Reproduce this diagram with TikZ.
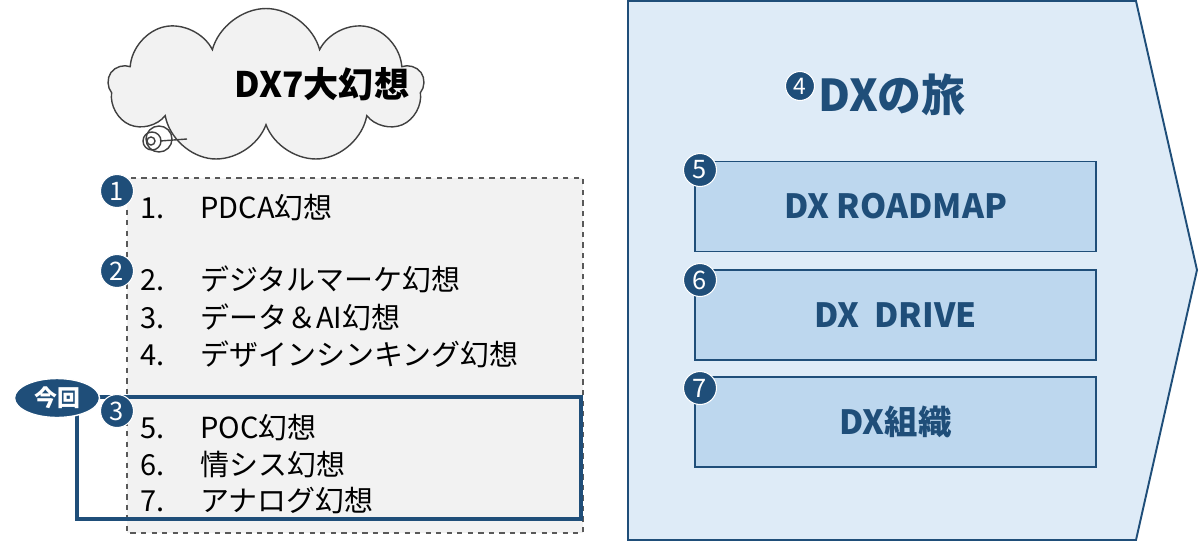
\documentclass[tikz,border=0pt]{standalone}
\usepackage{fontspec}
\newfontfamily\jp{Noto Sans CJK JP}
\usetikzlibrary{shapes.geometric, shapes.symbols}
\definecolor{navy}{HTML}{1F4E79}
\definecolor{paleblue}{HTML}{DEEBF7}
\definecolor{boxblue}{HTML}{BDD7EE}
\definecolor{panelgray}{HTML}{F2F2F2}
\tikzstyle{badge} = [
    circle,
    fill=navy,
    draw=white,
    line width=0.6pt,
    text=white,
    minimum size=0.66cm,
    inner sep=0pt,
    font=\jp\fontsize{14.5}{14.5}\selectfont
]
\tikzstyle{item} = [
    anchor=west,
    inner sep=0pt,
    font=\jp\fontsize{16.5}{16.5}\selectfont
]
\tikzstyle{stagebox} = [
    rectangle,
    minimum width=8.02cm,
    minimum height=1.8cm,
    draw=navy,
    line width=1.1pt,
    fill=boxblue,
    text=navy,
    font=\jp\bfseries\fontsize{19}{19}\selectfont
]

\begin{document}
\begin{tikzpicture}[x=0.02cm, y=-0.02cm]
\useasboundingbox (0,0) rectangle (1200,542);

% journey arrow
\draw [fill=paleblue, draw=navy, line width=1.1pt]
    (628,1) -- (1136,1) -- (1197,270) -- (1136,540) -- (628,540) -- cycle;

% thought cloud
\node (cloud) [cloud, cloud puffs=9, aspect=2.4, draw=black!75, fill=panelgray,
    line width=0.8pt, minimum width=6.3cm, minimum height=3.1cm] at (266,86) {};
\node (cloudtitle) [font=\jp\bfseries\fontsize{20}{20}\selectfont] at (322,84) {DX7大幻想};
\draw [black!75, line width=0.8pt] (159,139) circle (13);
\draw [black!75, line width=0.8pt] (152,141) circle (9);
\draw [black!75, line width=0.8pt] (151,141) circle (4);
\draw [black!75, line width=0.8pt] (160,141) -- (187,139);

% myth list
\draw [dashed, draw=black!65, fill=panelgray, line width=0.7pt] (127,178) rectangle (583,533);
\draw [draw=navy, line width=1.8pt] (77,397) rectangle (581,519);

\node (item1) [item] at (140,208) {\makebox[1.2cm][l]{1.}PDCA幻想};
\node (item2) [item] at (140,279) {\makebox[1.2cm][l]{2.}デジタルマーケ幻想};
\node (item3) [item] at (140,317) {\makebox[1.2cm][l]{3.}データ＆AI幻想};
\node (item4) [item] at (140,354) {\makebox[1.2cm][l]{4.}デザインシンキング幻想};
\node (item5) [item] at (140,428) {\makebox[1.2cm][l]{5.}POC幻想};
\node (item6) [item] at (140,465) {\makebox[1.2cm][l]{6.}情シス幻想};
\node (item7) [item] at (140,501) {\makebox[1.2cm][l]{7.}アナログ幻想};

\node (now) [ellipse, fill=navy, draw=white, line width=0.8pt, text=white,
    minimum width=1.7cm, minimum height=0.78cm, inner sep=0pt,
    font=\jp\bfseries\fontsize{13}{13}\selectfont] at (57,398) {今回};

\node (b1) [badge] at (117,191) {1};
\node (b2) [badge] at (117,271) {2};
\node (b3) [badge] at (117,411) {3};

% DX journey
\node (journey) [text=navy, font=\jp\bfseries\fontsize{25}{25}\selectfont] at (892,95) {DXの旅};
\node (b4) [badge, minimum size=0.58cm, font=\jp\fontsize{13}{13}\selectfont] at (800,86) {4};

\node (roadmap) [stagebox] at (895.5,206.5) {DX ROADMAP};
\node (drive) [stagebox] at (895.5,315) {DX\ \ DRIVE};
\node (org) [stagebox] at (895.5,422) {DX組織};

\node (b5) [badge] at (700,170) {5};
\node (b6) [badge] at (700,280) {6};
\node (b7) [badge] at (700,388) {7};

\end{tikzpicture}
\end{document}
